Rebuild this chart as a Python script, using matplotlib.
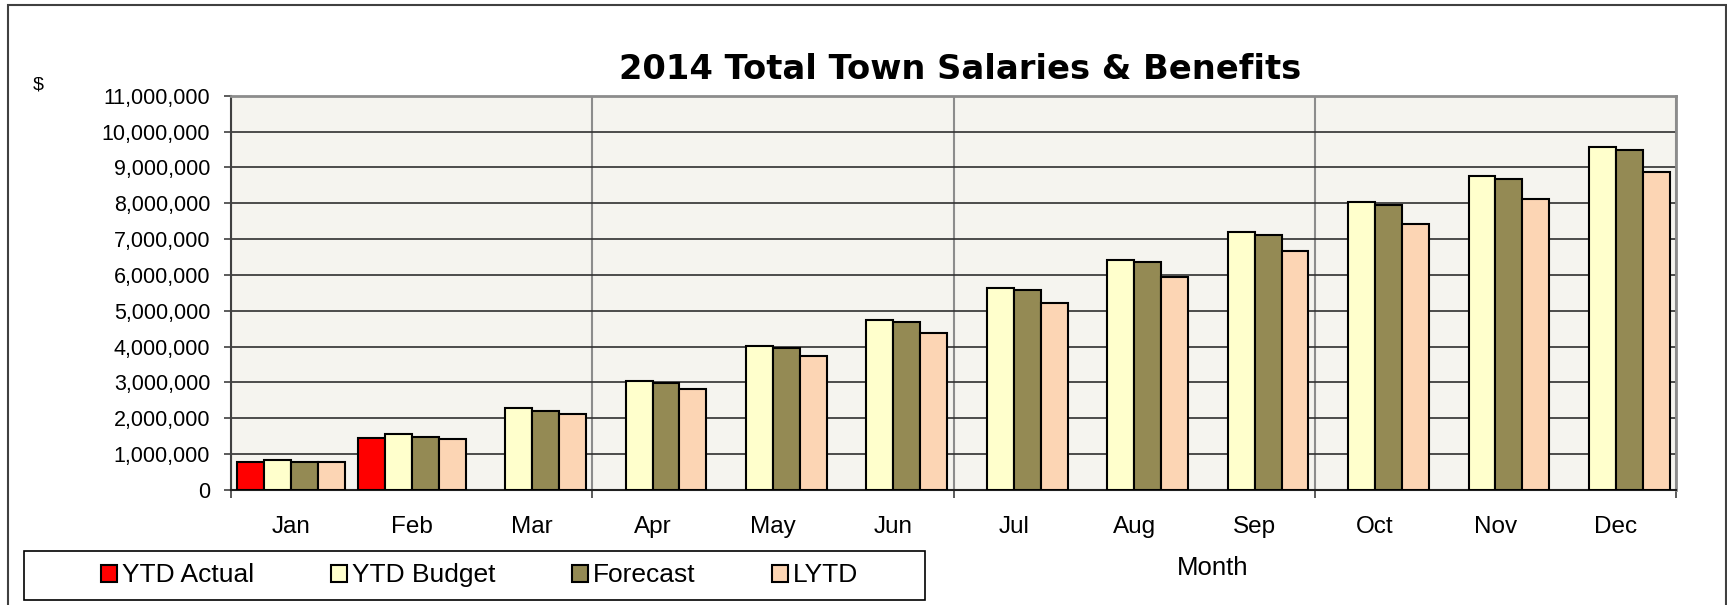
import matplotlib.pyplot as plt
import matplotlib.patches as mpatches
import numpy as np

plt.rcParams['font.family'] = ['Liberation Sans', 'DejaVu Sans']

months = ['Jan', 'Feb', 'Mar', 'Apr', 'May', 'Jun',
          'Jul', 'Aug', 'Sep', 'Oct', 'Nov', 'Dec']
ytd_actual = [770000, 1460000] + [np.nan] * 10
ytd_budget = [835000, 1550000, 2280000, 3040000, 4030000, 4740000,
              5630000, 6430000, 7190000, 8030000, 8760000, 9560000]
forecast = [770000, 1480000, 2210000, 2990000, 3970000, 4690000,
            5570000, 6370000, 7120000, 7960000, 8690000, 9490000]
lytd = [770000, 1430000, 2120000, 2820000, 3740000, 4390000,
        5210000, 5950000, 6660000, 7420000, 8120000, 8860000]

series = [('YTD Actual', ytd_actual, '#FF0000'),
          ('YTD Budget', ytd_budget, '#FFFFCC'),
          ('Forecast', forecast, '#948A54'),
          ('LYTD', lytd, '#FCD5B4')]

fig = plt.figure(figsize=(17.27, 6.05), dpi=100)
ax = fig.add_axes([0.1338, 0.1901, 0.8367, 0.6517])
ax.set_facecolor('#F5F4EF')

x = np.arange(len(months))
w = 0.2235
handles = []
for i, (name, vals, col) in enumerate(series):
    ax.bar(x + (i - 1.5) * w, vals, width=w, color=col,
           edgecolor='black', linewidth=1.5, zorder=3)
    handles.append(mpatches.Patch(facecolor=col, edgecolor='black',
                                  linewidth=1.5, label=name))

ax.set_xlim(-0.5, 11.5)
ax.set_ylim(0, 11000000)
yt = np.arange(0, 11000001, 1000000)
ax.set_yticks(yt)
ax.set_yticklabels(['{:,}'.format(v) for v in yt], fontsize=15.5)
ax.tick_params(axis='y', direction='out', length=5, width=1.2, pad=10,
               color='#404040')
ax.grid(axis='y', color='#303030', linewidth=1.2, zorder=0)

# category labels on minor ticks, boundaries on major ticks
ax.set_xticks([-0.5, 2.5, 5.5, 8.5, 11.5])
ax.set_xticklabels([])
ax.set_xticks(x, minor=True)
ax.set_xticklabels(months, minor=True, fontsize=17.5)
ax.tick_params(axis='x', which='minor', length=0, pad=19)
ax.tick_params(axis='x', which='major', direction='out', length=6,
               width=1.2, color='#404040')
ax.grid(axis='x', which='major', color='#8C8C8C', linewidth=1.5, zorder=0)

ax.spines['left'].set_color('#404040')
ax.spines['left'].set_linewidth(1.5)
ax.spines['bottom'].set_color('#202020')
ax.spines['bottom'].set_linewidth(1.5)
for s in ['top', 'right']:
    ax.spines[s].set_color('#8C8C8C')
    ax.spines[s].set_linewidth(2)

fig.text(0.556, 0.885, '2014 Total Town Salaries & Benefits',
         ha='center', va='center', fontsize=24.3, fontweight='bold',
         family='DejaVu Sans')
fig.text(0.022, 0.86, '$', ha='center', va='center', fontsize=14)
fig.text(0.702, 0.061, 'Month', ha='center', va='center', fontsize=18.5)

leg = fig.legend(handles=handles, loc='center left', ncol=4,
                 bbox_to_anchor=(0.0585, 0.0488), fontsize=19,
                 frameon=False, handlelength=0.6, handleheight=0.6,
                 handletextpad=0.2, columnspacing=2.9, borderpad=0,
                 borderaxespad=0)

legbox = mpatches.Rectangle((0.0139, 0.0083), 0.5217, 0.081,
                            transform=fig.transFigure, fill=False,
                            edgecolor='black', linewidth=1.2)
fig.patches.append(legbox)

border = mpatches.Rectangle((0.0044, -0.05), 0.9950, 1.0417,
                            transform=fig.transFigure, fill=False,
                            edgecolor='#404040', linewidth=1.5)
fig.patches.append(border)

fig.savefig('out.png', dpi=100)
